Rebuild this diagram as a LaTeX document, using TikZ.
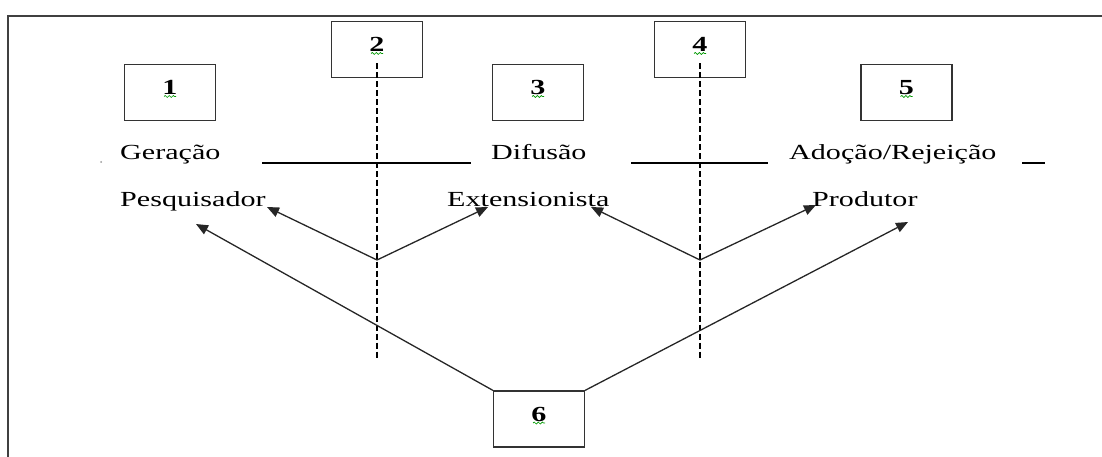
\documentclass[tikz,border=0pt]{standalone}
\usepackage{fontspec}
\setmainfont[FakeStretch=1.4]{Liberation Serif}
\usetikzlibrary{arrows.meta,decorations.pathmorphing}
\begin{document}
\begin{tikzpicture}[x=1pt,y=1pt,
  numbox/.style={draw=black!80,line width=1.3pt,minimum width=91pt,minimum height=56pt,inner sep=0pt},
  digit/.style={anchor=base,inner sep=0pt,font=\fontsize{21.5}{24}\selectfont\bfseries},
  word/.style={anchor=base west,inner sep=0pt,font=\fontsize{21.5}{24}\selectfont},
  bar/.style={line width=2.6pt},
  divider/.style={line width=1.2pt,dash pattern=on 6pt off 3pt},
  arr/.style={line width=1.3pt,draw=black!85,-{Triangle[length=12pt,width=10pt]}},
  squig/.style={green!60!black,line width=0.7pt,decorate,decoration={snake,amplitude=1pt,segment length=4pt}}
]
\useasboundingbox (0,0) rectangle (1102,-457);
% frame
\draw[line width=1.5pt,black!75] (8,-457) -- (8,-16) -- (1102,-16);
% boxes
\node[numbox] (b1) at (170,-92.5) {};
\node[numbox] (b2) at (377,-49.5) {};
\node[numbox] (b3) at (538,-92.5) {};
\node[numbox] (b4) at (700,-49.5) {};
\node[numbox] (b5) at (906.5,-92.5) {};
\node[numbox] (b6) at (539,-419) {};
\foreach \b/\t in {b1/1,b2/2,b3/3,b4/4,b5/5,b6/6}{
  \node[digit] (d\b) at ([yshift=-2pt]\b.center) {\t};
  \draw[squig] ([xshift=-6pt,yshift=-4pt]\b.center) -- ([xshift=6pt,yshift=-4pt]\b.center);
}
% words
\node[word] (ger) at (120,-160) {Geração};
\node[word] (dif) at (491,-160) {Difusão};
\node[word] (ado) at (789,-160) {Adoção/Rejeição};
\node[word] (pes) at (120,-207) {Pesquisador};
\node[word] (ext) at (447,-207) {Extensionista};
\node[word] (pro) at (812,-207) {Produtor};
\fill[black!40] (101,-162) circle (1pt);
% horizontal bars
\coordinate (l1a) at (262,-163); \coordinate (l1b) at (471,-163);
\coordinate (l2a) at (631,-163); \coordinate (l2b) at (768,-163);
\coordinate (l3a) at (1022,-163); \coordinate (l3b) at (1045,-163);
\draw[bar] (l1a) -- (l1b);
\draw[bar] (l2a) -- (l2b);
\draw[bar] (l3a) -- (l3b);
% dashed dividers
\coordinate (v2e) at (377,-358);
\coordinate (v4e) at (700,-358);
\draw[divider] ([yshift=-14pt]b2.center) -- (v2e);
\draw[divider] ([yshift=-14pt]b4.center) -- (v4e);
% arrows
\coordinate (j2) at (377,-260);
\coordinate (j4) at (700,-260);
\coordinate (t1) at (267,-207);
\coordinate (t2) at (488,-207);
\coordinate (t3) at (591,-207);
\coordinate (t4) at (816,-205);
\coordinate (t5) at (196,-224);
\coordinate (t6) at (908,-222);
\draw[arr] (j2) -- (t1);
\draw[arr] (j2) -- (t2);
\draw[arr] (j4) -- (t3);
\draw[arr] (j4) -- (t4);
\draw[arr] (b6.north west) -- (t5);
\draw[arr] (b6.north east) -- (t6);
\end{tikzpicture}
\end{document}
